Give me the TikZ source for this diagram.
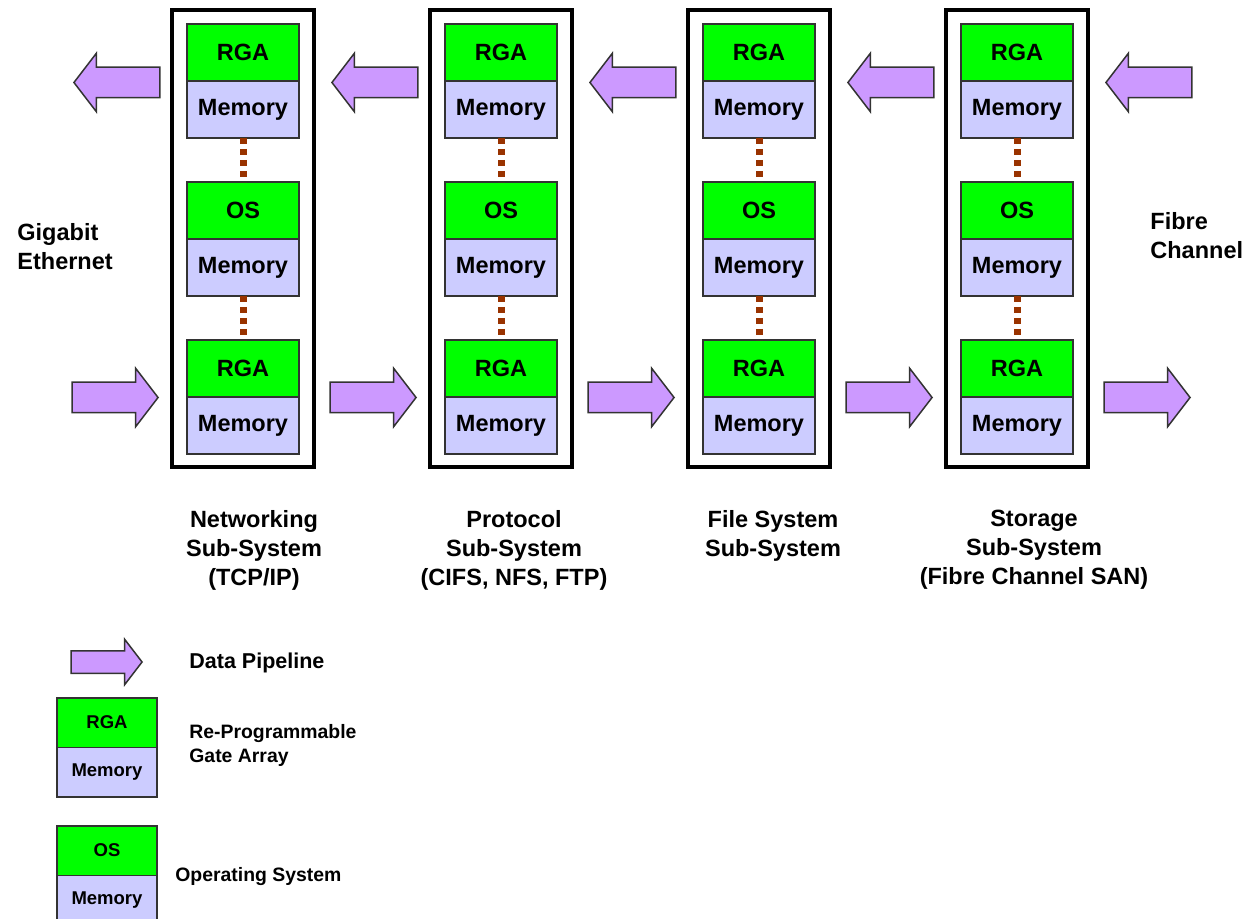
\documentclass[tikz,border=0pt]{standalone}
\usepackage{fontspec}
\setmainfont{Liberation Sans}
\usetikzlibrary{positioning,shapes.arrows}
\definecolor{ChipGreen}{HTML}{00FF00}
\definecolor{MemBlue}{HTML}{CCCCFF}
\definecolor{PipeViolet}{HTML}{CC99FF}
\definecolor{LinkBrown}{HTML}{993300}

\begin{document}
\begin{tikzpicture}[
    x=0.5pt,y=-0.5pt,
    chip/.style={rectangle,draw=black!80,line width=0.75pt,fill=ChipGreen,minimum width=56pt,minimum height=28.5pt,inner sep=0pt,outer sep=0pt,font=\fontsize{11.75}{14}\selectfont\bfseries},
    mem/.style={chip,fill=MemBlue},
    keychip/.style={chip,minimum width=50pt,minimum height=24.75pt,font=\fontsize{9.25}{11}\selectfont\bfseries},
    keymem/.style={keychip,fill=MemBlue},
    frame/.style={rectangle,draw=black,line width=1.75pt,minimum width=71pt,minimum height=228.5pt},
    pipe/.style={single arrow,draw=black!80,line width=0.75pt,fill=PipeViolet,minimum height=43pt,inner sep=7.25pt,single arrow head extend=7pt,single arrow tip angle=105,single arrow head indent=0pt,anchor=tip},
    link/.style={LinkBrown,line width=3.5pt,dash pattern=on 3pt off 2.5pt},
    lbl/.style={font=\fontsize{11.75}{14.5}\selectfont\bfseries,align=center,inner sep=0pt},
    keylbl/.style={font=\fontsize{9.7}{12}\selectfont\bfseries,align=left,anchor=west,inner sep=0pt}
  ]
  \useasboundingbox (0,0) rectangle (1247,919);
  % Sub-systems
  \foreach \i in {1,...,4}{
    \pgfmathsetmacro\cx{243+258*(\i-1)}
    \node[frame] (col\i) at (\cx,238.5) {};
    \node[chip] (rgaA\i) at (\cx,52.5) {RGA};
    \node[mem,below=0pt of rgaA\i] (memA\i) {Memory};
    \node[chip] (os\i) at (\cx,210.5) {OS};
    \node[mem,below=0pt of os\i] (memB\i) {Memory};
    \node[chip] (rgaC\i) at (\cx,368.5) {RGA};
    \node[mem,below=0pt of rgaC\i] (memC\i) {Memory};
    \draw[link] (memA\i) -- (os\i);
    \draw[link] (memB\i) -- (rgaC\i);
  }
  % Pipelines
  \foreach \k in {1,...,5}{
    \pgfmathsetmacro\tl{73+258*(\k-1)}
    \pgfmathsetmacro\tr{159+258*(\k-1)}
    \node[pipe,shape border rotate=180] (pipeL\k) at (\tl,82.5) {};
    \node[pipe] (pipeR\k) at (\tr,397.5) {};
  }
  % Links
  \node[lbl,align=left,anchor=west] (gige) at (17,247) {Gigabit\\Ethernet};
  \node[lbl,align=left,anchor=west] (fc) at (1150,236) {Fibre\\Channel};
  % Sub-system names
  \node[lbl] (netName) at (254,550) {Networking\\Sub-System\\(TCP/IP)};
  \node[lbl] (protoName) at (514,550) {Protocol\\Sub-System\\(CIFS, NFS, FTP)};
  \node[lbl] (fsName) at (773,535.5) {File System\\Sub-System};
  \node[lbl] (storName) at (1034,550) {Storage\\Sub-System\\(Fibre Channel SAN)};
  % Legend
  \node[pipe,minimum height=35.5pt,inner sep=5.25pt,single arrow head extend=5.75pt] (pipeKey) at (143,662) {};
  \node[keylbl,font=\fontsize{10.75}{13}\selectfont\bfseries] (pipeText) at (189,663) {Data Pipeline};
  \node[keychip] (keyRga) at (107,722.5) {RGA};
  \node[keymem,below=0pt of keyRga] (keyMemA) {Memory};
  \node[keylbl] (rgaText) at (189,745) {Re-Programmable\\Gate Array};
  \node[keychip] (keyOs) at (107,850.5) {OS};
  \node[keymem,below=0pt of keyOs] (keyMemB) {Memory};
  \node[keylbl] (osText) at (175,877) {Operating System};
\end{tikzpicture}
\end{document}
